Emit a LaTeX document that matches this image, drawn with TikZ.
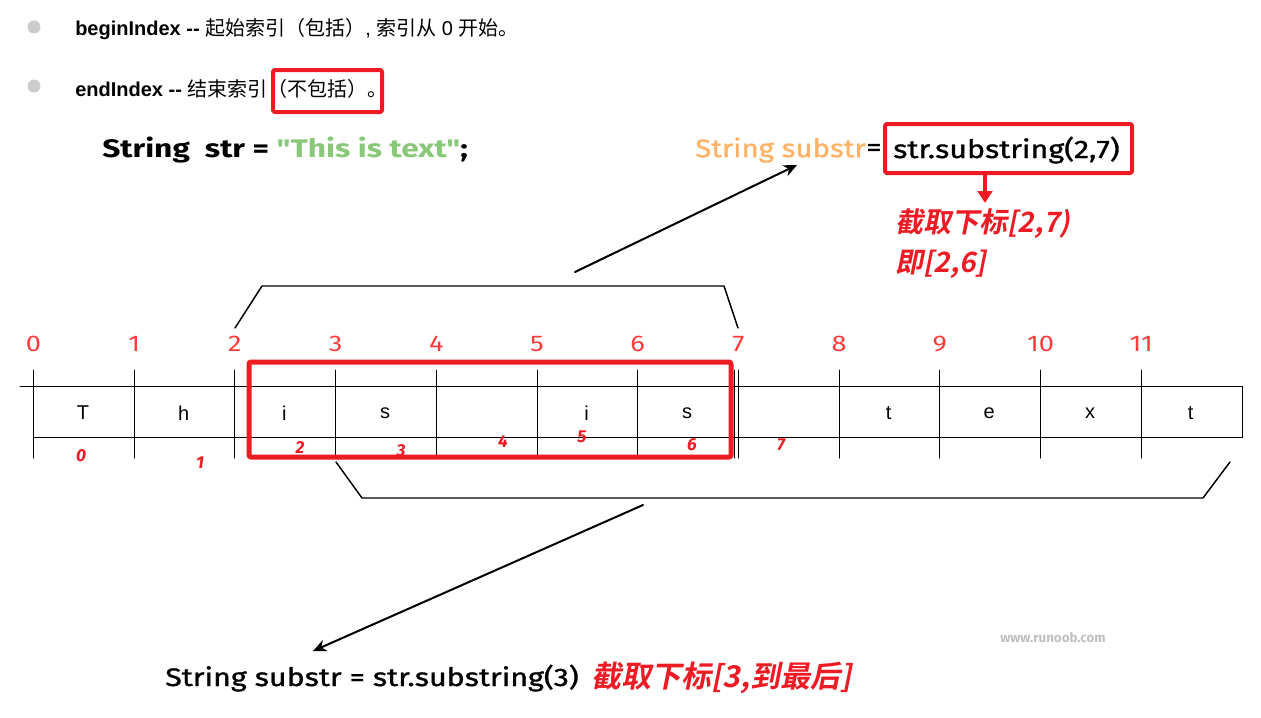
\documentclass[tikz,border=0pt]{standalone}
\usepackage{fontspec}
\setmainfont{Liberation Sans}
\newfontfamily\cjk{Noto Sans CJK SC}
\newfontfamily\redcjk[FakeSlant=0.2]{Noto Sans CJK SC Bold}
\newfontfamily\comic{Fira Sans}
\newfontfamily\comicw[FakeStretch=1.2]{Fira Sans}
\newfontfamily\comicm[FakeBold=1.2,FakeStretch=1.2]{Fira Sans}
\newfontfamily\comicn[FakeBold=1.2,FakeStretch=1.16]{Fira Sans}
\newfontfamily\comicb[FakeStretch=1.25]{Fira Sans Bold}
\usetikzlibrary{arrows.meta}
\definecolor{hired}{HTML}{ED1C24}
\definecolor{idxred}{HTML}{FF3B3B}
\definecolor{strgreen}{HTML}{88C878}
\definecolor{varorange}{HTML}{FFB266}
\definecolor{dotgray}{HTML}{CCCCCC}
\tikzset{
  redbox/.style={draw=hired, line width=3pt, rounded corners=1.5pt},
  code/.style={inner sep=0, anchor=west, font=\comicm\fontsize{19}{22}\selectfont},
  redlbl/.style={inner sep=0, anchor=west, text=hired, font=\redcjk\fontsize{21}{24}\selectfont},
  idx/.style={inner sep=0, text=idxred, font=\comicw\fontsize{17}{19}\selectfont},
  subidx/.style={inner sep=0, text=hired, font=\comic\bfseries\itshape\fontsize{13}{15}\selectfont},
  chr/.style={inner sep=0, font=\fontsize{15}{18}\selectfont},
  bracket/.style={line width=1.1pt},
  arrow/.style={line width=1.5pt, -{Stealth[length=10pt,width=9pt]}}
}
\begin{document}
\begin{tikzpicture}[x=0.75pt, y=-0.75pt, line join=round, line cap=round]
\useasboundingbox (0,0) rectangle (1261,718);
\def\dx{100.7}
\fill[dotgray] (34,27) circle (6.5) (34,86) circle (6.5);
\node[inner sep=0, anchor=west, font=\fontsize{15}{18}\selectfont] (begin) at (75,29)
  {\textbf{beginIndex -{}-} {\cjk 起始索引（包括）}, {\cjk 索引从} 0 {\cjk 开始。}};
\node[inner sep=0, anchor=west, font=\fontsize{15}{18}\selectfont] (endi) at (75,89)
  {\textbf{endIndex -{}-} {\cjk 结束索引（不包括）。}};
\draw[redbox] (273,70) rectangle (382,112);

\node[code] (decl) at (102,150) {{\comicb String\ \ str = \textcolor{strgreen}{"This is text"};}};
\node[code, text=varorange, font=\comicn\fontsize{19}{22}\selectfont] (lhs) at (695,150) {String substr};
\node[code] (eq) at (lhs.east) {=};
\node[code] (call) at (893,150) {str.substring(2,7)};
\draw[redbox] (885,124) rectangle (1132,173);
\coordinate (callbot) at (985,173);
\coordinate (calltip) at (985,203);
\draw[draw=hired, line width=3pt, -{Triangle[length=9pt,width=11pt]}] (callbot) -- (calltip);
\node[redlbl] (cut1) at (895,224) {截取下标[2,7)};
\node[redlbl] (cut2) at (895,264) {即[2,6]};

\coordinate (up0) at (575,272);
\coordinate (up1) at (797,165);
\draw[arrow] (up0) -- (up1);
\draw[bracket] (235,328) -- (262,286) -- (724,286) -- (738,328);

\foreach \i in {0,...,11} {
  \node[idx] (n\i) at ({33.5+\dx*\i},344) {\i};
  \draw[line width=0.75pt] ({33.5+\dx*\i},370) -- ({33.5+\dx*\i},458);
}
\draw[line width=0.75pt] (734.5,370) -- (734.5,458);
\draw[line width=0.75pt] (20,386) -- (1242,386) -- (1242,437) -- (33.5,437);
\foreach \c [count=\k from 0] in {T,h,i,s,{},i,s,{},t,e,x,t}
  \node[chr] (c\k) at ({83+\dx*\k},413) {\c};
\draw[redbox, line width=3.75pt] (249,362) rectangle (731,457);
\foreach \n/\x/\y in {0/81/456, 1/200/463, 2/300/448, 3/401/451, 4/503/441, 5/582/437, 6/692/445, 7/781/445}
  \node[subidx] (s\n) at (\x,\y) {\n};

\draw[bracket] (336,462) -- (362,498) -- (1203,498) -- (1230,462);
\coordinate (dn0) at (643,505);
\coordinate (dn1) at (313,651);
\draw[arrow] (dn0) -- (dn1);
\node[text=black!25, inner sep=0, font=\comic\bfseries\fontsize{10}{12}\selectfont] (wm) at (1053,638) {www.runoob.com};
\node[code] (tail) at (165,678) {String substr = str.substring(3)};
\node[redlbl, font=\redcjk\fontsize{22.5}{26}\selectfont] (cut3) at (591,678) {截取下标[3,到最后]};
\end{tikzpicture}
\end{document}
